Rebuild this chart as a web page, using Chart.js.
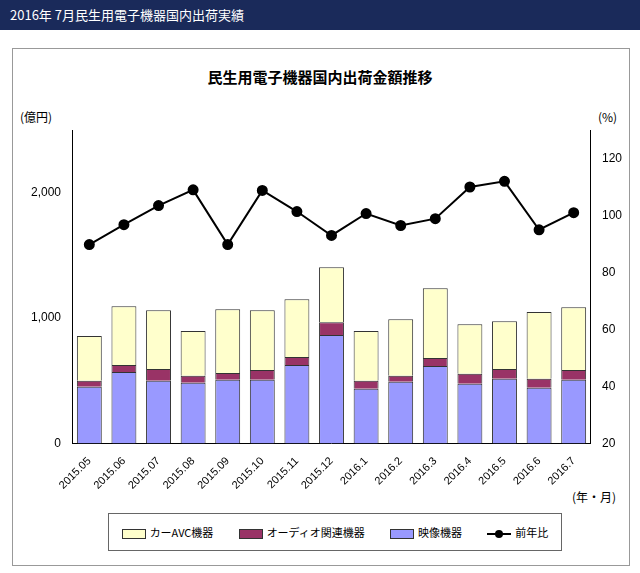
<!DOCTYPE html>
<html><head><meta charset="utf-8">
<script src="https://cdn.jsdelivr.net/npm/chart.js"></script>
<style>
body{margin:0;width:640px;height:573px;background:#fff;font-family:"Noto Sans CJK JP","Noto Sans",sans-serif;position:relative;overflow:hidden}
#hdr{position:absolute;left:0;top:0;width:640px;height:30px;background:#1a2a5a;color:#fff;font-size:13px;line-height:30px;padding-left:10px;box-sizing:border-box}
#frame{position:absolute;left:12px;top:48px;width:618px;height:518px;border:1px solid #999;box-sizing:border-box}
#title{position:absolute;left:0;top:66px;width:640px;text-align:center;font-size:15px;font-weight:bold}
.u{position:absolute;font-size:12px}
#wrap{position:absolute;left:28px;top:110px;width:597px;height:385px}
#leg{position:absolute;left:108px;top:513px;width:452px;height:36px;border:1px solid #666;font-size:11px;display:flex;align-items:center;justify-content:space-around}
.sw{display:inline-block;width:22px;height:8px;border:1px solid #333;vertical-align:middle;margin-right:4px}
</style></head><body>
<div id="hdr">2016年 7月民生用電子機器国内出荷実績</div>
<div id="frame"></div>
<div id="title">民生用電子機器国内出荷金額推移</div>
<div class="u" style="left:20px;top:108px">(億円)</div>
<div class="u" style="left:598px;top:108px">(%)</div>
<div class="u" style="left:572px;top:488px">(年・月)</div>
<div id="wrap"><canvas id="c"></canvas></div>
<div id="leg">
<span><span class="sw" style="background:#FFFFCC"></span>カーAVC機器</span>
<span><span class="sw" style="background:#993366"></span>オーディオ関連機器</span>
<span><span class="sw" style="background:#9999FF"></span>映像機器</span>
<span><span style="display:inline-block;width:24px;height:2px;background:#000;vertical-align:middle;position:relative;margin-right:4px"><span style="position:absolute;left:8px;top:-3px;width:8px;height:8px;border-radius:50%;background:#000"></span></span>前年比</span>
</div>
<script>
const categories=["2015.05","2015.06","2015.07","2015.08","2015.09","2015.10","2015.11","2015.12","2016.1","2016.2","2016.3","2016.4","2016.5","2016.6","2016.7"];
const video=[452,571,500,484,508,508,627,865,437,492,619,476,516,444,508];
const audio=[48,56,95,56,55,79,63,103,63,48,64,80,79,72,79];
const carAVC=[357,468,468,357,508,476,461,437,397,452,555,396,381,532,500];
const yoy=[89.8,96.8,103.5,109,89.8,108.8,101.4,93,100.7,96.5,98.9,110,112,95,101];
new Chart(document.getElementById('c'),{
data:{labels:categories,datasets:[
{type:'line',label:'前年比',data:yoy,yAxisID:'y2',borderColor:'#000',backgroundColor:'#000',borderWidth:2,pointRadius:4.5,order:0},
{type:'bar',label:'映像機器',data:video,backgroundColor:'#9999FF',borderColor:'#333',borderWidth:1,stack:'s',order:1},
{type:'bar',label:'オーディオ関連機器',data:audio,backgroundColor:'#993366',borderColor:'#333',borderWidth:1,stack:'s',order:1},
{type:'bar',label:'カーAVC機器',data:carAVC,backgroundColor:'#FFFFCC',borderColor:'#333',borderWidth:1,stack:'s',order:1}
]},
options:{responsive:true,maintainAspectRatio:false,animation:false,
layout:{padding:{left:0,right:0,top:20,bottom:0}},
plugins:{legend:{display:false},tooltip:{enabled:false}},
scales:{
x:{stacked:true,grid:{display:false},border:{color:'#000'},ticks:{color:'#000',font:{size:11},maxRotation:45,minRotation:45},categoryPercentage:0.9,barPercentage:0.72},
y:{stacked:true,min:0,max:2500,grid:{display:false},border:{color:'#000'},ticks:{stepSize:500,color:'#000',font:{size:12},callback:v=>v%1000===0?v.toLocaleString('en-US'):''}},
y2:{position:'right',min:20,max:130,grid:{display:false},border:{color:'#000'},ticks:{stepSize:10,color:'#000',font:{size:12},callback:v=>(v%20===0&&v<=120)?v:''}}
}}});
</script>
</body></html>
